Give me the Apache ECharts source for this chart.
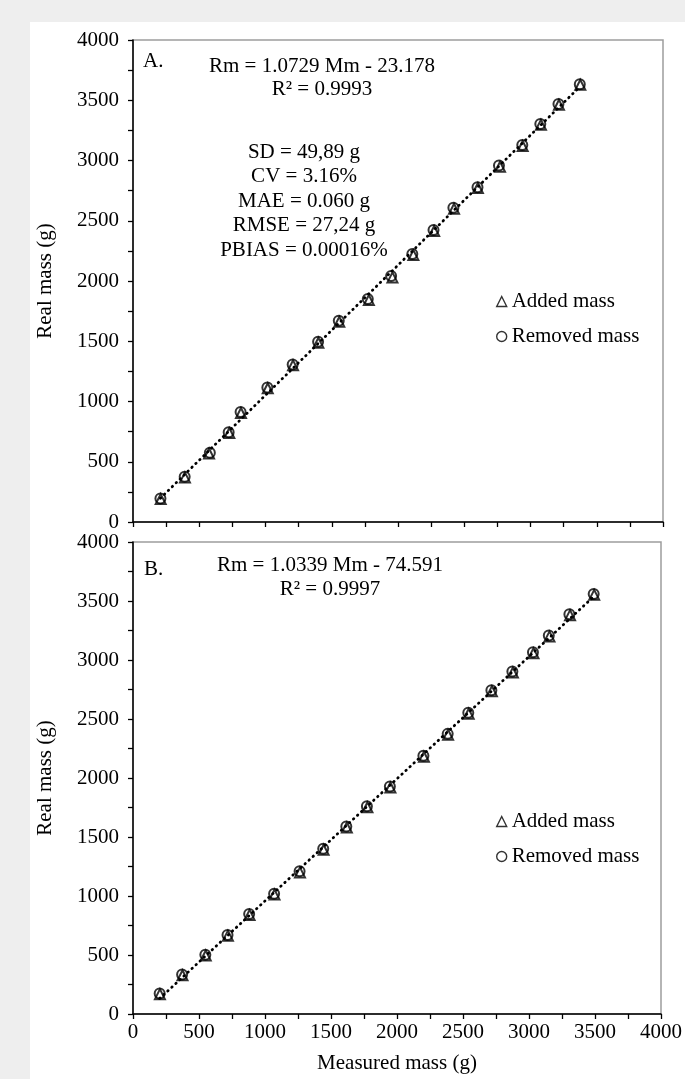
<!DOCTYPE html>
<html>
<head>
<meta charset="utf-8">
<script src="https://cdn.jsdelivr.net/npm/echarts@6/dist/echarts.min.js"></script>
<style>
  html, body { margin: 0; padding: 0; background: #eeeeee; }
  #bg { position: absolute; left: 30px; top: 22px; width: 655px; height: 1057px; background: #ffffff; }
  #chart { position: absolute; left: 0; top: 0; width: 685px; height: 1079px; }
</style>
</head>
<body>
<div id="bg"></div>
<div id="chart"></div>
<script>
// ---- Data ----
const seriesNames = ['Added mass', 'Removed mass'];

// Panel A
const topAddedX   = [209, 392, 574, 727, 815, 1017, 1208, 1399, 1557, 1780, 1958, 2116, 2273, 2423, 2603, 2770, 2941, 3079, 3215, 3376];
const topAddedY   = [190, 370, 568, 738, 905, 1110, 1300, 1488, 1662, 1842, 2030, 2215, 2415, 2600, 2772, 2948, 3120, 3296, 3462, 3628];
const topRemovedX = [207, 390, 580, 722, 812, 1014, 1205, 1397, 1553, 1772, 1948, 2108, 2268, 2418, 2600, 2762, 2938, 3074, 3211, 3372];
const topRemovedY = [196, 375, 575, 745, 912, 1117, 1308, 1496, 1670, 1850, 2042, 2225, 2424, 2608, 2778, 2958, 3128, 3302, 3468, 3632];

// Panel B
const bottomAddedX   = [204, 375, 551, 719, 883, 1072, 1265, 1444, 1620, 1776, 1950, 2204, 2387, 2543, 2719, 2878, 3034, 3155, 3311, 3494];
const bottomAddedY   = [168, 328, 496, 664, 840, 1012, 1200, 1392, 1580, 1752, 1920, 2180, 2366, 2544, 2736, 2894, 3058, 3200, 3380, 3552];
const bottomRemovedX = [202, 372, 548, 716, 880, 1069, 1262, 1441, 1616, 1772, 1946, 2200, 2384, 2540, 2715, 2874, 3030, 3150, 3306, 3490];
const bottomRemovedY = [174, 334, 503, 670, 848, 1020, 1210, 1400, 1588, 1760, 1928, 2188, 2374, 2552, 2744, 2902, 3066, 3208, 3388, 3560];

// Axis ticks
const axisMin = 0, axisMax = 4000, tickStep = 250, labelStep = 500;

// Texts
const panelLabels = ['A.', 'B.'];
const equationsA = ['Rm = 1.0729 Mm - 23.178', 'R\u00B2 = 0.9993'];
const equationsB = ['Rm = 1.0339 Mm - 74.591', 'R\u00B2 = 0.9997'];
const statsA = ['SD = 49,89 g', 'CV = 3.16%', 'MAE = 0.060 g', 'RMSE = 27,24 g', 'PBIAS = 0.00016%'];
const xAxisName = 'Measured mass (g)';
const yAxisName = 'Real mass (g)';

// ---- Helpers ----
const FONT = '"Liberation Serif", "Times New Roman", Times, serif';
const FS = 21;
function zip(xs, ys) { return xs.map((x, i) => [x, ys[i]]); }
function fitLine(xs, ys) {
  const n = xs.length;
  let sx = 0, sy = 0, sxx = 0, sxy = 0;
  for (let i = 0; i < n; i++) { sx += xs[i]; sy += ys[i]; sxx += xs[i] * xs[i]; sxy += xs[i] * ys[i]; }
  const a = (n * sxy - sx * sy) / (n * sxx - sx * sx);
  const b = (sy - a * sx) / n;
  const x0 = Math.min(...xs), x1 = Math.max(...xs);
  return [[x0, a * x0 + b], [x1, a * x1 + b]];
}

const markerStyle = { color: 'rgba(255,255,255,0)', borderColor: '#000', borderWidth: 2 };

function makeXAxis(idx, showLabels) {
  return {
    type: 'value', gridIndex: idx, min: axisMin, max: axisMax, interval: tickStep,
    name: showLabels ? xAxisName : '', nameLocation: 'middle', nameGap: 39,
    nameTextStyle: { fontFamily: FONT, fontSize: FS, color: '#000' },
    axisLine: { show: true, onZero: false, lineStyle: { color: '#000', width: 1.5 } },
    axisTick: { show: true, inside: false, length: 5, lineStyle: { color: '#000', width: 1.3 } },
    axisLabel: {
      show: showLabels, margin: 8, fontFamily: FONT, fontSize: FS, color: '#000',
      formatter: v => (v % labelStep === 0 ? String(v) : '')
    },
    splitLine: { show: false }
  };
}
function makeYAxis(idx) {
  return {
    type: 'value', gridIndex: idx, min: axisMin, max: axisMax, interval: tickStep,
    name: yAxisName, nameLocation: 'middle', nameGap: 77, nameRotate: 90,
    nameTextStyle: { fontFamily: FONT, fontSize: FS, color: '#000' },
    axisLine: { show: true, onZero: false, lineStyle: { color: '#000', width: 1.5 } },
    axisTick: { show: true, inside: false, length: 5, lineStyle: { color: '#000', width: 1.3 } },
    axisLabel: {
      margin: 14, fontFamily: FONT, fontSize: FS, color: '#000',
      formatter: v => (v % labelStep === 0 ? String(v) : '')
    },
    splitLine: { show: false }
  };
}
function scatter(name, symbol, idx, data) {
  return {
    name, type: 'scatter', symbol, symbolSize: 10, xAxisIndex: idx, yAxisIndex: idx,
    itemStyle: markerStyle, data, z: 3
  };
}
function trend(idx, xs, ys) {
  return {
    name: 'fit', type: 'line', xAxisIndex: idx, yAxisIndex: idx, showSymbol: false, symbol: 'none',
    lineStyle: { color: '#000', width: 2.8, type: [0.5, 5], cap: 'round' },
    data: fitLine(xs, ys), z: 1, silent: true
  };
}
function legend(top) {
  return {
    data: seriesNames, orient: 'vertical', left: 491, top: top,
    itemWidth: 10, itemHeight: 10, itemGap: 14,
    itemStyle: { color: 'rgba(255,255,255,0)', borderColor: '#000', borderWidth: 1.4 },
    textStyle: { fontFamily: FONT, fontSize: FS, color: '#000', lineHeight: 21 },
    selectedMode: false
  };
}
function txt(text, x, y, align) {
  return {
    type: 'text', x: x, y: y, silent: true,
    style: { text: text, font: FS + 'px ' + FONT, fill: '#000', align: align || 'center', verticalAlign: 'middle' }
  };
}

const graphics = [
  txt(panelLabels[0], 143, 61, 'left'),
  txt(equationsA[0], 322, 66),
  txt(equationsA[1], 322, 89),
  txt(panelLabels[1], 144, 569, 'left'),
  txt(equationsB[0], 330, 565),
  txt(equationsB[1], 330, 589)
];
statsA.forEach((s, i) => graphics.push(txt(s, 304, 152 + i * 24.5)));

const chart = echarts.init(document.getElementById('chart'), null, { renderer: 'canvas' });
chart.setOption({
  animation: false,
  backgroundColor: 'transparent',
  grid: [
    { left: 133, top: 40, width: 530, height: 482, show: true, borderColor: '#9d9d9d', borderWidth: 1.5, backgroundColor: 'transparent' },
    { left: 133, top: 542, width: 530, height: 472, show: true, borderColor: '#9d9d9d', borderWidth: 1.5, backgroundColor: 'transparent' }
  ],
  xAxis: [makeXAxis(0, false), makeXAxis(1, true)],
  yAxis: [makeYAxis(0), makeYAxis(1)],
  legend: [legend(286), legend(806)],
  series: [
    trend(0, topAddedX.concat(topRemovedX), topAddedY.concat(topRemovedY)),
    scatter(seriesNames[0], 'triangle', 0, zip(topAddedX, topAddedY)),
    scatter(seriesNames[1], 'circle', 0, zip(topRemovedX, topRemovedY)),
    trend(1, bottomAddedX.concat(bottomRemovedX), bottomAddedY.concat(bottomRemovedY)),
    scatter(seriesNames[0], 'triangle', 1, zip(bottomAddedX, bottomAddedY)),
    scatter(seriesNames[1], 'circle', 1, zip(bottomRemovedX, bottomRemovedY))
  ],
  graphic: graphics
});
</script>
</body>
</html>
